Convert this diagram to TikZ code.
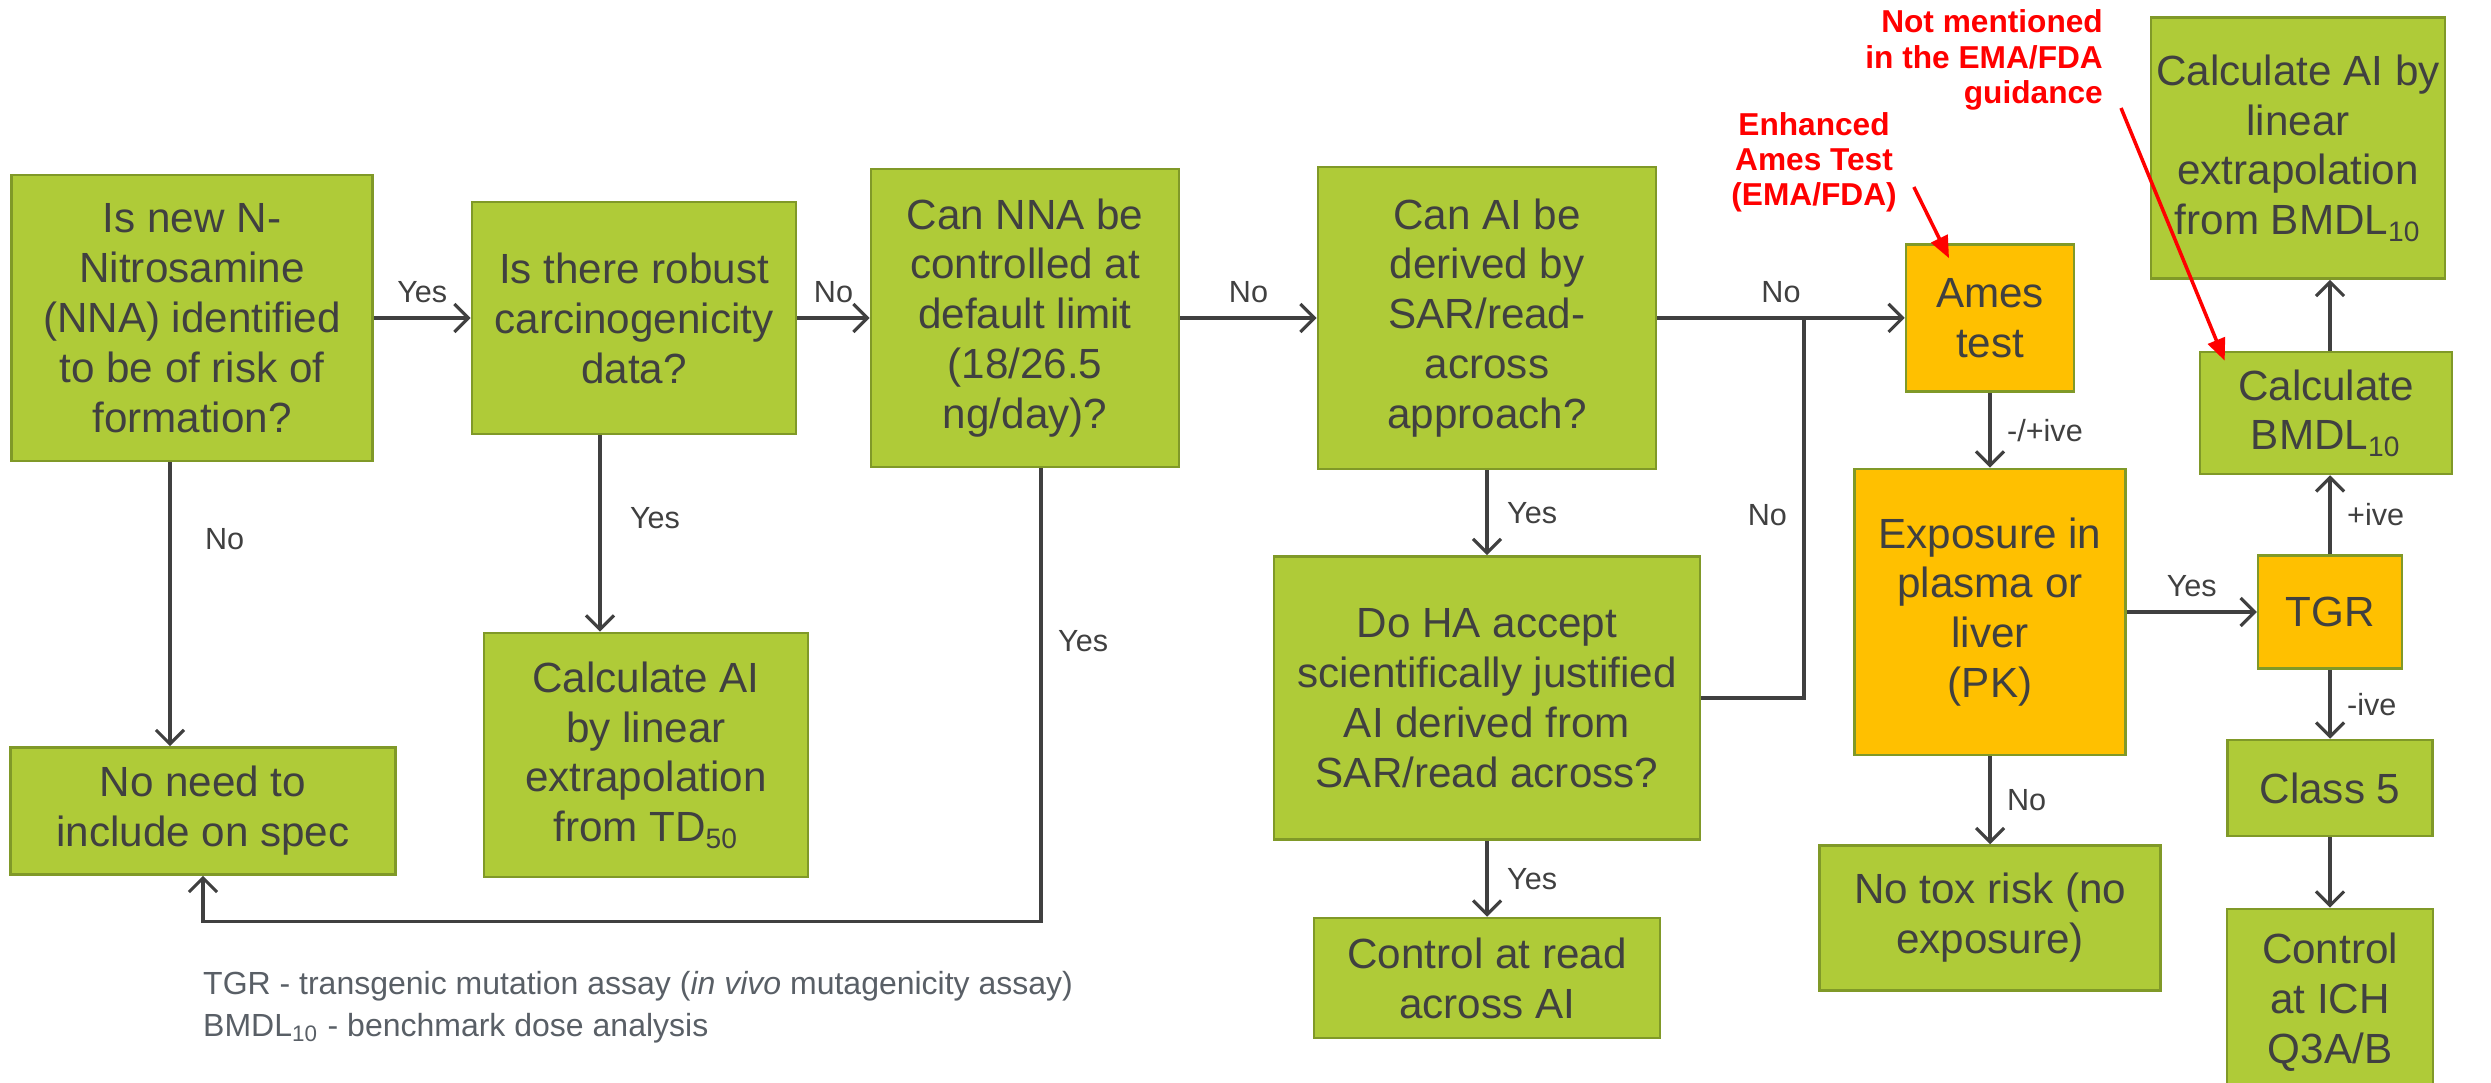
\documentclass[tikz,border=0pt]{standalone}
\usepackage{fontspec}
\setmainfont{Liberation Sans}
\usetikzlibrary{arrows.meta}
\definecolor{boxgreen}{RGB}{175,203,56}
\definecolor{boxedge}{RGB}{128,153,40}
\definecolor{boxamber}{RGB}{255,192,0}
\definecolor{inkgrey}{RGB}{64,64,64}
\definecolor{notered}{RGB}{255,0,0}
\definecolor{keygrey}{RGB}{89,95,102}

\begin{document}
\begin{tikzpicture}[x=0.01cm,y=-0.01cm,
  every node/.style={inner sep=1pt},
  greenbox/.style={draw=boxedge,fill=boxgreen,line width=0.7pt,text=inkgrey,align=center,font=\fontsize{12}{14.2}\selectfont},
  amberbox/.style={greenbox,fill=boxamber},
  link/.style={draw=inkgrey,line width=0.9pt},
  arrowlink/.style={link,-{Straight Barb[length=1.4mm,width=2.8mm]}},
  lbl/.style={text=inkgrey,font=\fontsize{8.7}{10}\selectfont},
  note/.style={text=notered,font=\bfseries\fontsize{9}{10}\selectfont},
  notearrow/.style={draw=notered,line width=1pt,-{Triangle[length=2.2mm,width=1.8mm]}}]
\useasboundingbox (0,0) rectangle (2491,1083);

\node[greenbox,minimum width=3.61cm,minimum height=2.86cm] (q1) at (192,318) {Is new N-\\Nitrosamine\\(NNA) identified\\to be of risk of\\formation?};
\node[greenbox,minimum width=3.24cm,minimum height=2.32cm] (q2) at (634,318) {Is there robust\\carcinogenicity\\data?};
\node[greenbox,minimum width=3.08cm,minimum height=2.98cm] (q3) at (1025,318) {Can NNA be\\controlled at\\default limit\\(18/26.5\\ng/day)?};
\node[greenbox,minimum width=3.38cm,minimum height=3.02cm] (q4) at (1487,318) {Can AI be\\derived by\\SAR/read-\\across\\approach?};
\node[amberbox,minimum width=1.68cm,minimum height=1.47cm] (ames) at (1990,318) {Ames\\test};
\node[greenbox,minimum width=2.94cm,minimum height=2.61cm] (aibmdl) at (2298,148) {Calculate AI by\\linear\\extrapolation\\from BMDL\textsubscript{10}};
\node[greenbox,minimum width=2.52cm,minimum height=1.22cm] (bmdl) at (2326,413) {Calculate\\BMDL\textsubscript{10}};
\node[amberbox,minimum width=2.71cm,minimum height=2.86cm] (pk) at (1990,612) {Exposure in\\plasma or\\liver\\(PK)};
\node[amberbox,minimum width=1.44cm,minimum height=1.13cm] (tgr) at (2330,612) {TGR};
\node[greenbox,minimum width=2.05cm,minimum height=0.96cm] (classfive) at (2330,788) {Class 5};
\node[greenbox,minimum width=2.06cm,minimum height=1.86cm] (ich) at (2330,1002) {Control\\at ICH\\Q3A/B};
\node[greenbox,minimum width=3.41cm,minimum height=1.45cm] (notox) at (1990,918) {No tox risk (no\\exposure)};
\node[greenbox,minimum width=3.85cm,minimum height=1.27cm] (noneed) at (203,811) {No need to\\include on spec};
\node[greenbox,minimum width=3.24cm,minimum height=2.44cm] (tdfifty) at (646,755) {Calculate AI\\by linear\\extrapolation\\from TD\textsubscript{50}};
\node[greenbox,minimum width=4.26cm,minimum height=2.83cm] (doha) at (1487,698) {Do HA accept\\scientifically justified\\AI derived from\\SAR/read across?};
\node[greenbox,minimum width=3.46cm,minimum height=1.20cm] (ctrlread) at (1487,978) {Control at read\\across AI};

\node[note,align=center] (amesnote) at (1814,162) {Enhanced\\Ames Test\\(EMA/FDA)};
\node[note,align=right,anchor=east] (guidenote) at (2107,60) {Not mentioned\\in the EMA/FDA\\guidance};
\node[anchor=north west,align=left,text=keygrey,font=\fontsize{9.1}{12}\selectfont] (key) at (199,967) {TGR - transgenic mutation assay (\textit{in vivo} mutagenicity assay)\\BMDL\textsubscript{10} - benchmark dose analysis};

\draw[arrowlink] (q1) -- (q2) node[lbl,midway,above=3pt] {Yes};
\draw[arrowlink] (q2) -- (q3) node[lbl,midway,above=3pt] {No};
\draw[arrowlink] (q3) -- (q4) node[lbl,midway,above=3pt] {No};
\draw[arrowlink] (q4) -- (ames) node[lbl,pos=0.5,above=3pt] {No};
\draw[arrowlink] ([xshift=-0.22cm]q1.south) -- ([xshift=-0.22cm]q1.south |- noneed.north) node[lbl,pos=0.27,right=0.3cm] {No};
\draw[arrowlink] ([xshift=-0.34cm]q2.south) -- ([xshift=-0.34cm]q2.south |- tdfifty.north) node[lbl,pos=0.42,right=0.25cm] {Yes};
\draw[arrowlink] ([xshift=0.16cm]q3.south) |- ([yshift=-0.46cm]noneed.south) node[lbl,pos=0.19,right=0.12cm] {Yes} -- (noneed.south);
\draw[arrowlink] (q4) -- (doha) node[lbl,midway,right=0.15cm] {Yes};
\coordinate (merge) at (1804,318);
\draw[link] (doha.east) -| (merge) node[lbl,pos=0.74,left=0.12cm] {No};
\draw[arrowlink] (doha) -- (ctrlread) node[lbl,midway,right=0.15cm] {Yes};
\draw[arrowlink] (ames) -- (pk) node[lbl,midway,right=0.12cm] {-/+ive};
\draw[arrowlink] (pk) -- (tgr) node[lbl,midway,above=3pt] {Yes};
\draw[arrowlink] (tgr.north) -- (tgr.north |- bmdl.south) node[lbl,midway,right=0.12cm] {+ive};
\draw[arrowlink] (tgr.north |- bmdl.north) -- (tgr.north |- aibmdl.south);
\draw[arrowlink] (tgr) -- (classfive) node[lbl,midway,right=0.12cm] {-ive};
\draw[arrowlink] (classfive) -- (ich);
\draw[arrowlink] (pk) -- (notox) node[lbl,midway,right=0.12cm] {No};

\draw[notearrow] ([shift={(13,25)}]amesnote.east) -- ([shift={(-41,15)}]ames.north);
\draw[notearrow] ([shift={(14,48)}]guidenote.east) -- ([shift={(26,10)}]bmdl.north west);
\end{tikzpicture}
\end{document}
